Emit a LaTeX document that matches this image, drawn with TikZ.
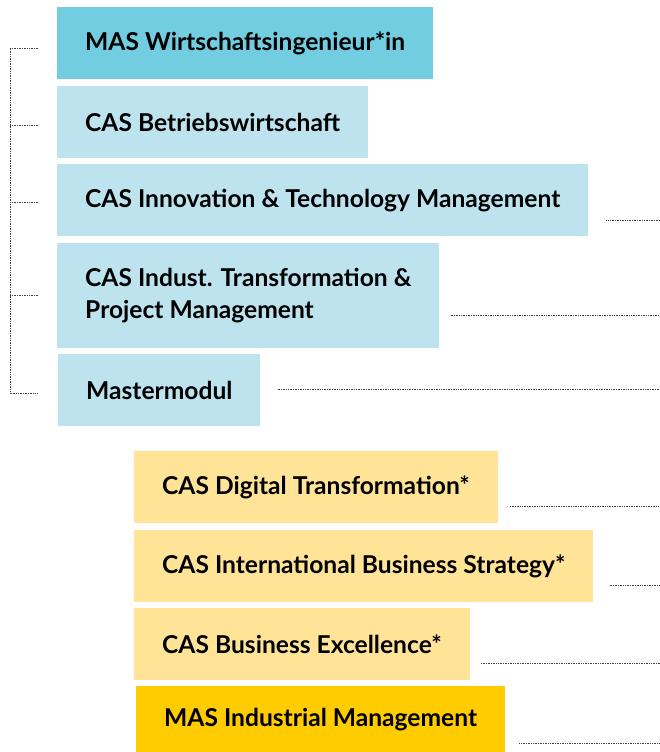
\documentclass[tikz,border=0pt]{standalone}
\usepackage{fontspec}
\setmainfont{Lato}
\usepackage{tikz}
\usetikzlibrary{positioning,calc}
\definecolor{masblue}{HTML}{72CDE0}
\definecolor{casblue}{HTML}{BDE4EE}
\definecolor{casyellow}{HTML}{FFE497}
\definecolor{masyellow}{HTML}{FFCC00}
\tikzset{font=\fontsize{24.6}{32}\selectfont\bfseries}
\tikzset{box/.style={anchor=north west, inner xsep=28pt, inner ysep=0pt,
    minimum height=72pt, align=left}}
\tikzset{leader/.style={densely dotted, line width=0.7pt, black!75}}

\begin{document}
\begin{tikzpicture}[x=1pt,y=-1pt]
  \useasboundingbox (0,0) rectangle (660,752);
  \coordinate (rim) at (660,0);

  \node[box, fill=masblue] (b1) at (57,7) {MAS Wirtschaftsingenieur*in};
  \node[box, fill=casblue] (b2) at (57,86) {CAS Betriebswirtschaft};
  \node[box, fill=casblue] (b3) at (57,164) {CAS Innovation \& Technology Management};
  \node[box, fill=casblue, minimum height=105pt] (b4) at (57,243)
  {CAS Indust. Transformation \&\\Project Management};
  \node[box, fill=casblue] (b5) at (58,354) {Mastermodul};

  \node[box, fill=casyellow] (b6) at (134,451) {CAS Digital Transformation*};
  \node[box, fill=casyellow] (b7) at (134,530) {CAS International Business Strategy*};
  \node[box, fill=casyellow] (b8) at (134,608) {CAS Business Excellence*};
  \node[box, fill=masyellow, minimum height=66pt] (b9) at (136,686)
  {MAS Industrial Management};

  % bracket on the left
  \coordinate (l1) at ([xshift=-19pt,yshift=-5pt]b1.west);
  \coordinate (l2) at ([xshift=-19pt,yshift=-3pt]b2.west);
  \coordinate (l3) at ([xshift=-19pt,yshift=-2pt]b3.west);
  \coordinate (l4) at ([xshift=-19pt]b4.west);
  \coordinate (l5) at ([xshift=-20pt,yshift=-3pt]b5.west);
  \draw[leader] (l1) -- ++(-28,0) coordinate (top) |- (l5);
  \foreach \i in {2,3,4}
  \draw[leader] (l\i) -- (l\i -| top);

  % leaders to the right edge
  \foreach \b/\gap/\dy in {b3/18/-20, b4/11/-20, b5/17/1, b6/12/-19,
    b7/16/-19, b8/11/-19, b9/14/-24}
  \draw[leader] ([xshift=\gap pt,yshift=\dy pt]\b.east)
  -- ([yshift=\dy pt]\b.east -| rim);
\end{tikzpicture}
\end{document}
